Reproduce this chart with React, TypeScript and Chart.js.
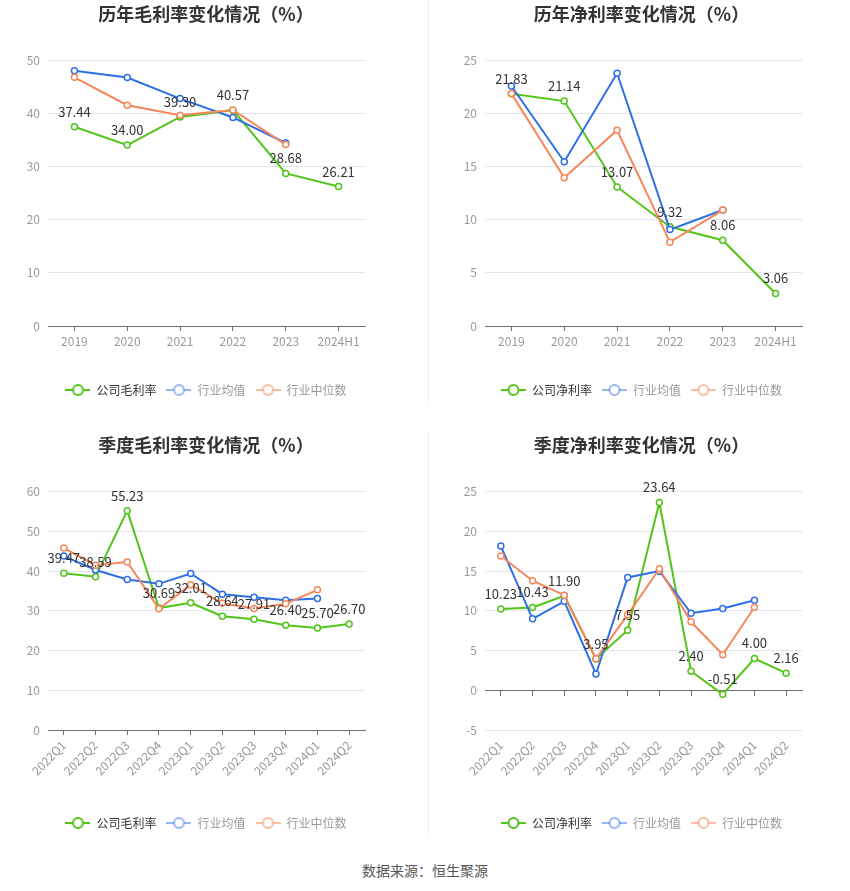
import React, { useEffect, useRef } from 'react';
import { Chart, registerables } from 'chart.js';

Chart.register(...registerables);

// ---------- data ----------
const yearCats = ['2019', '2020', '2021', '2022', '2023', '2024H1'];
const yearGrossCompany = [37.44, 34.0, 39.3, 40.57, 28.68, 26.21];
const yearGrossMean = [48.0, 46.7, 42.75, 39.2, 34.4, null];
const yearGrossMedian = [46.75, 41.5, 39.6, 40.6, 34.1, null];

const yearNetCompany = [21.83, 21.14, 13.07, 9.32, 8.06, 3.06];
const yearNetMean = [22.56, 15.44, 23.75, 9.06, 10.9, null];
const yearNetMedian = [21.84, 13.94, 18.4, 7.88, 10.9, null];

const quarterCats = ['2022Q1', '2022Q2', '2022Q3', '2022Q4', '2023Q1', '2023Q2', '2023Q3', '2023Q4', '2024Q1', '2024Q2'];
const qGrossCompany = [39.47, 38.59, 55.23, 30.69, 32.01, 28.64, 27.91, 26.4, 25.7, 26.7];
const qGrossMean = [43.8, 40.3, 37.9, 36.8, 39.4, 34.2, 33.4, 32.7, 33.1, null];
const qGrossMedian = [45.8, 41.5, 42.3, 30.5, 36.6, 31.9, 30.6, 31.8, 35.3, null];

const qNetCompany = [10.23, 10.43, 11.9, 3.95, 7.55, 23.64, 2.4, -0.51, 4.0, 2.16];
const qNetMean = [18.16, 9.0, 11.2, 2.05, 14.2, 15.0, 9.7, 10.3, 11.34, null];
const qNetMedian = [16.9, 13.8, 11.97, 3.97, 9.5, 15.3, 8.62, 4.48, 10.46, null];

const seriesNames = ['行业均值', '行业中位数'];

// ---------- styles ----------
const FONT = '"Noto Sans CJK SC", "Noto Sans", sans-serif';
const GREEN = '#52c41a';
const BLUE = '#2f6fe6';
const ORANGE = '#f7875a';
const GREEN_L = '#52c41a';
const BLUE_L = 'rgba(47,111,230,0.5)';
const ORANGE_L = 'rgba(247,135,90,0.55)';
const GRID = '#e2e5f0';
const AXIS = '#6e7079';

function legendIcon(color: string): HTMLCanvasElement {
  const c = document.createElement('canvas');
  c.width = 25;
  c.height = 14;
  const g = c.getContext('2d')!;
  g.strokeStyle = color;
  g.lineWidth = 2;
  g.beginPath();
  g.moveTo(0, 7);
  g.lineTo(25, 7);
  g.stroke();
  g.beginPath();
  g.arc(12.5, 7, 5, 0, Math.PI * 2);
  g.fillStyle = '#fff';
  g.fill();
  g.stroke();
  return c;
}

const valueLabels = {
  id: 'valueLabels',
  afterDatasetsDraw(chart: any) {
    const meta = chart.getDatasetMeta(0);
    const ds = chart.data.datasets[0];
    const ctx = chart.ctx;
    ctx.save();
    ctx.font = `13px ${FONT}`;
    ctx.fillStyle = '#333';
    ctx.textAlign = 'center';
    ctx.textBaseline = 'middle';
    meta.data.forEach((pt: any, i: number) => {
      const v = ds.data[i];
      if (v == null) return;
      ctx.fillText(Number(v).toFixed(2), pt.x, pt.y - 15);
    });
    ctx.restore();
  },
};

type Spec = {
  title: string;
  companyName: string;
  cats: string[];
  company: (number | null)[];
  mean: (number | null)[];
  median: (number | null)[];
  min: number;
  max: number;
  step: number;
  width: number;
  height: number;
  yWidth: number;
  padRight: number;
  titleTop: number;
  titleBottom: number;
  xHeight: number;
  padBottom: number;
  rotated: boolean;
  zeroAxis: boolean;
};

function LineChart({ spec, style }: { spec: Spec; style: React.CSSProperties }) {
  const ref = useRef<HTMLCanvasElement | null>(null);
  useEffect(() => {
    if (!ref.current) return;
    const icons = [legendIcon(GREEN_L), legendIcon(BLUE_L), legendIcon(ORANGE_L)];
    const fontColors = ['#333', '#999', '#999'];
    const mk = (label: string, data: (number | null)[], color: string, order: number) => ({
      label,
      data,
      borderColor: color,
      backgroundColor: color,
      borderWidth: 2,
      pointRadius: 3,
      pointBorderWidth: 1.5,
      pointBackgroundColor: '#fff',
      pointBorderColor: color,
      tension: 0,
      order,
      spanGaps: false,
      yAxisID: 'y',
      xAxisID: 'x',
    });
    const tickFont = { size: 12, family: FONT };
    const xTicks: any = {
      color: '#999',
      font: tickFont,
      padding: 3,
      autoSkip: false,
    };
    if (spec.rotated) {
      xTicks.minRotation = 45;
      xTicks.maxRotation = 45;
    } else {
      xTicks.maxRotation = 0;
    }
    const scales: any = {
      y: {
        position: 'left',
        min: spec.min,
        max: spec.max,
        ticks: { stepSize: spec.step, color: '#999', font: tickFont, padding: 8 },
        grid: { color: GRID, drawTicks: false },
        border: { display: false },
        afterFit: (s: any) => {
          s.width = spec.yWidth;
        },
      },
      yPad: {
        axis: 'y',
        type: 'linear',
        position: 'right',
        display: true,
        ticks: { display: false },
        grid: { display: false, drawTicks: false },
        border: { display: false },
        afterFit: (s: any) => {
          s.width = spec.padRight;
        },
      },
    };
    if (spec.zeroAxis) {
      scales.x = {
        axis: 'x',
        type: 'category',
        position: { y: 0 },
        offset: true,
        ticks: { display: false },
        grid: { drawOnChartArea: false, drawTicks: true, tickLength: 5, color: AXIS, offset: false },
        border: { display: true, color: AXIS },
      };
      scales.x2 = {
        axis: 'x',
        type: 'category',
        position: 'bottom',
        offset: true,
        ticks: { ...xTicks, padding: 8 },
        grid: { display: false, drawTicks: false },
        border: { display: false },
        afterFit: (s: any) => {
          s.height = spec.xHeight;
        },
      };
    } else {
      scales.x = {
        type: 'category',
        position: 'bottom',
        offset: true,
        ticks: xTicks,
        grid: { drawOnChartArea: false, drawTicks: true, tickLength: 5, color: AXIS, offset: false },
        border: { display: true, color: AXIS },
        afterFit: (s: any) => {
          s.height = spec.xHeight;
        },
      };
    }
    const chart = new Chart(ref.current, {
      type: 'line',
      data: {
        labels: spec.cats,
        datasets: [
          mk(spec.companyName, spec.company, GREEN, 3),
          mk(seriesNames[0], spec.mean, BLUE, 2),
          mk(seriesNames[1], spec.median, ORANGE, 1),
        ] as any,
      },
      options: {
        responsive: false,
        animation: false,
        events: [],
        layout: { padding: { left: 0, right: 0, top: 0, bottom: spec.padBottom } },
        scales,
        plugins: {
          tooltip: { enabled: false },
          title: {
            display: true,
            text: spec.title,
            color: '#333',
            font: { size: 18, weight: 'bold', family: FONT },
            padding: { top: spec.titleTop, bottom: spec.titleBottom },
          },
          legend: {
            display: true,
            position: 'bottom',
            align: 'center',
            labels: {
              usePointStyle: true,
              pointStyleWidth: 25,
              padding: 10,
              font: { size: 12, family: FONT },
              generateLabels: (ch: any) =>
                ch.data.datasets.map((ds: any, i: number) => ({
                  text: ds.label,
                  fillStyle: '#fff',
                  strokeStyle: ds.borderColor,
                  lineWidth: 0,
                  pointStyle: icons[i],
                  fontColor: fontColors[i],
                  hidden: false,
                  datasetIndex: i,
                })),
            },
          },
        },
      } as any,
      plugins: [valueLabels],
    });
    return () => chart.destroy();
  }, [spec]);
  return <canvas ref={ref} width={spec.width} height={spec.height} style={{ position: 'absolute', ...style }} />;
}

const specs: Spec[] = [
  {
    title: '历年毛利率变化情况（%）',
    companyName: '公司毛利率',
    cats: yearCats,
    company: yearGrossCompany,
    mean: yearGrossMean,
    median: yearGrossMedian,
    min: 0,
    max: 50,
    step: 10,
    width: 412,
    height: 410,
    yWidth: 48,
    padRight: 47,
    titleTop: 3,
    titleBottom: 35.4,
    xHeight: 48,
    padBottom: 4,
    rotated: false,
    zeroAxis: false,
  },
  {
    title: '历年净利率变化情况（%）',
    companyName: '公司净利率',
    cats: yearCats,
    company: yearNetCompany,
    mean: yearNetMean,
    median: yearNetMedian,
    min: 0,
    max: 25,
    step: 5,
    width: 417,
    height: 410,
    yWidth: 52,
    padRight: 48,
    titleTop: 3,
    titleBottom: 35.4,
    xHeight: 48,
    padBottom: 4,
    rotated: false,
    zeroAxis: false,
  },
  {
    title: '季度毛利率变化情况（%）',
    companyName: '公司毛利率',
    cats: quarterCats,
    company: qGrossCompany,
    mean: qGrossMean,
    median: qGrossMedian,
    min: 0,
    max: 60,
    step: 10,
    width: 412,
    height: 410,
    yWidth: 48,
    padRight: 47,
    titleTop: 4,
    titleBottom: 36.1,
    xHeight: 77,
    padBottom: 1,
    rotated: true,
    zeroAxis: false,
  },
  {
    title: '季度净利率变化情况（%）',
    companyName: '公司净利率',
    cats: quarterCats,
    company: qNetCompany,
    mean: qNetMean,
    median: qNetMedian,
    min: -5,
    max: 25,
    step: 5,
    width: 417,
    height: 410,
    yWidth: 52,
    padRight: 48,
    titleTop: 4,
    titleBottom: 36.1,
    xHeight: 77,
    padBottom: 1,
    rotated: true,
    zeroAxis: true,
  },
];

export default function App() {
  return (
    <div style={{ position: 'absolute', left: 0, top: 0, width: 850, height: 891, background: '#fff', fontFamily: FONT }}>
      <LineChart spec={specs[0]} style={{ left: 0, top: 0 }} />
      <LineChart spec={specs[1]} style={{ left: 433, top: 0 }} />
      <LineChart spec={specs[2]} style={{ left: 0, top: 430 }} />
      <LineChart spec={specs[3]} style={{ left: 433, top: 430 }} />
      <div style={{ position: 'absolute', left: 428, top: 0, width: 1, height: 405, background: '#f0f0f0' }} />
      <div style={{ position: 'absolute', left: 428, top: 432, width: 1, height: 406, background: '#f0f0f0' }} />
      <div
        style={{
          position: 'absolute',
          left: 0,
          top: 860,
          width: 850,
          textAlign: 'center',
          fontSize: 14,
          lineHeight: '20px',
          color: '#555',
        }}
      >
        数据来源：恒生聚源
      </div>
    </div>
  );
}
